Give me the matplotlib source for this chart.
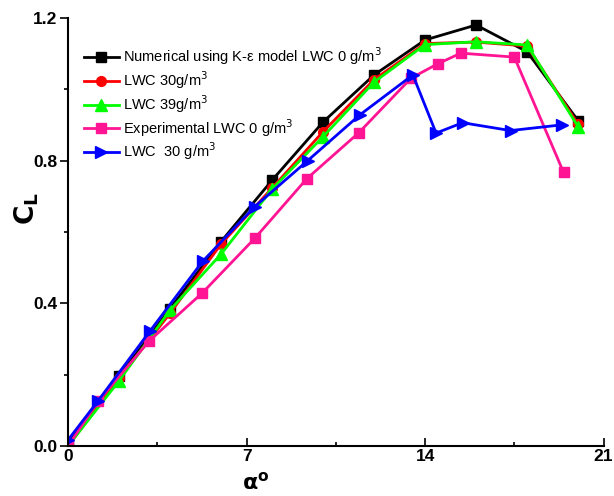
import matplotlib
matplotlib.use('Agg')
import matplotlib.pyplot as plt
from matplotlib.ticker import MultipleLocator

plt.rcParams['font.family'] = ['Liberation Sans', 'DejaVu Sans']

# angle of attack (deg) and lift coefficient
alpha_num = [0, 2, 4, 6, 8, 10, 12, 14, 16, 18, 20]
cl_num0 = [0.01, 0.195, 0.385, 0.573, 0.745, 0.908, 1.04, 1.138, 1.18, 1.105, 0.912]
cl_num30 = [0.0, 0.19, 0.372, 0.566, 0.723, 0.881, 1.027, 1.128, 1.132, 1.121, 0.902]
cl_num39 = [0.0, 0.183, 0.381, 0.538, 0.72, 0.867, 1.02, 1.125, 1.133, 1.124, 0.895]

alpha_exp = [0, 1.18, 3.19, 5.25, 7.32, 9.36, 11.4, 13.45, 14.49, 15.4, 17.5, 19.43]
cl_exp0 = [0.0, 0.126, 0.295, 0.428, 0.582, 0.749, 0.878, 1.031, 1.071, 1.101, 1.09, 0.767]
alpha_exp30 = [0, 1.18, 3.22, 5.27, 7.32, 9.4, 11.44, 13.52, 14.43, 15.47, 17.35, 19.36]
cl_exp30 = [0.017, 0.127, 0.323, 0.517, 0.671, 0.80, 0.928, 1.04, 0.877, 0.906, 0.884, 0.90]

fig = plt.figure(figsize=(6.14, 4.96), dpi=100)
ax = fig.add_axes([0.111, 0.101, 0.872, 0.863])

ax.plot(alpha_num, cl_num0, '-s', color='black', lw=2, ms=7,
        label='Numerical using K-ε model LWC 0 g/m$^3$')
ax.plot(alpha_num, cl_num30, '-o', color='red', lw=2, ms=7, label='LWC 30g/m$^3$')
ax.plot(alpha_num, cl_num39, '-^', color='#00ff00', lw=2, ms=8, label='LWC 39g/m$^3$')
ax.plot(alpha_exp, cl_exp0, '-s', color='#ff1493', lw=2, ms=7,
        label='Experimental LWC 0 g/m$^3$')
ax.plot(alpha_exp30, cl_exp30, '->', color='blue', lw=2, ms=9, label='LWC  30 g/m$^3$')

ax.set_xlim(0, 21)
ax.set_ylim(0, 1.2)
ax.xaxis.set_major_locator(MultipleLocator(7))
ax.xaxis.set_minor_locator(MultipleLocator(3.5))
ax.yaxis.set_minor_locator(MultipleLocator(0.2))
ax.set_yticks([0, 0.4, 0.8, 1.2])
ax.set_yticklabels(['0.0', '0.4', '0.8', '1.2'])
ax.tick_params(axis='x', which='both', direction='in')
ax.tick_params(axis='y', which='both', direction='out')
ax.tick_params(which='major', length=6, width=1.2, labelsize=12.5, pad=2)
ax.tick_params(which='minor', length=3, width=1.2)
for lbl in ax.get_xticklabels() + ax.get_yticklabels():
    lbl.set_fontweight('bold')

for s in ['top', 'right']:
    ax.spines[s].set_visible(False)
for s in ['left', 'bottom']:
    ax.spines[s].set_linewidth(1.5)

ax.set_xlabel(r'$\mathbf{\alpha}^{\mathbf{o}}$', fontsize=16)
ax.xaxis.set_label_coords(0.35, -0.062)
ax.set_ylabel(r'$\mathbf{C_L}$', fontsize=19)
ax.yaxis.set_label_coords(-0.05, 0.555)

ax.legend(loc='upper left', bbox_to_anchor=(0.01, 0.96), frameon=False,
          fontsize=10.5, handlelength=2.4, handletextpad=0.3, labelspacing=0.15,
          borderaxespad=0.3)

fig.savefig('out.png', dpi=100)
